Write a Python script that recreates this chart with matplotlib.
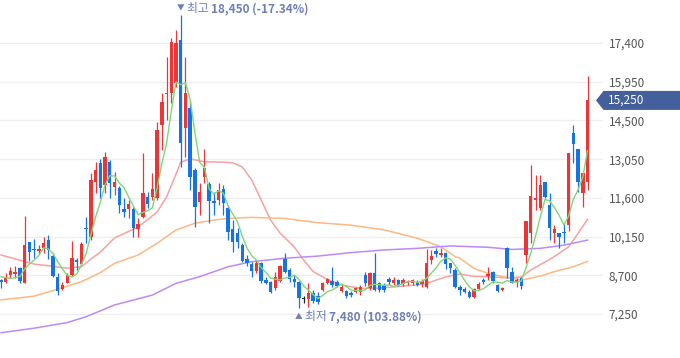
import numpy as np
import matplotlib as mpl
import matplotlib.pyplot as plt
from matplotlib.patches import Polygon
from matplotlib.transforms import IdentityTransform

plt.rcParams['font.family'] = ['Noto Sans CJK KR', 'DejaVu Sans']

# ------------ Daily OHLC (KRW) ------------
opens = [8520, 8460, 8710, 8760, 8960, 8420, 9940, 9690, 9620, 9730,
         10020, 9420, 8650, 8180, 8420, 8710, 9270, 9120, 10460, 10130,
         12210, 12910, 12080, 12950, 12000, 11960, 11180, 11180, 11180, 10420,
         10870, 11640, 11640, 11580, 14330, 15490, 15520, 15890, 17510, 14200,
         14950, 12640, 11460, 12390, 12120, 11490, 11520, 11920, 11210, 10430,
         10280, 9830, 9310, 9120, 8860, 9160, 8520, 8450, 8220, 8490,
         9310, 8900, 8560, 8450, 7810, 7810, 8040, 7920, 8150, 8410,
         8490, 8450, 8110, 8110, 8040, 8090, 8090, 8710, 8210, 8770,
         8400, 8340, 8550, 8420, 8520, 8370, 8400, 8400, 8460, 8360,
         8270, 9270, 9610, 9470, 9520, 9150, 8900, 8270, 8180, 8090,
         7880, 8180, 8520, 8670, 8810, 8340, 8150, 9710, 8820, 8460,
         8590, 9460, 10300, 11520, 11210, 12180, 11330, 10270, 10300, 10330,
         10580, 14040, 13420, 11770, 12210]
highs = [8560, 8800, 9020, 9050, 9010, 10920, 9950, 10050, 9830, 10120,
         10210, 9530, 8770, 8460, 8800, 10000, 9360, 9960, 10890, 12520,
         12950, 13060, 13330, 13020, 12580, 12040, 11580, 11520, 11260, 10850,
         13270, 11820, 12520, 14450, 15520, 16890, 17580, 17890, 18450, 16890,
         15270, 12720, 12150, 13420, 12190, 11830, 12150, 12080, 11330, 10770,
         10470, 9910, 9460, 9200, 9270, 9200, 8640, 8490, 8820, 9090,
         9530, 8970, 8710, 8490, 7920, 8410, 8150, 8070, 8450, 8600,
         9010, 8520, 8340, 8150, 8110, 8260, 8340, 8840, 8840, 9520,
         8460, 8400, 8650, 8620, 8570, 8590, 8520, 8560, 8520, 8560,
         9670, 9650, 9710, 9710, 9580, 9170, 8970, 8340, 8270, 8150,
         8220, 8460, 8590, 9000, 8870, 8370, 8250, 9750, 9000, 8590,
         8650, 10730, 12830, 12460, 12460, 12210, 11770, 10580, 10300, 10650,
         13270, 14330, 13420, 12520, 16160]
lows = [8220, 8410, 8600, 8600, 8420, 8410, 9240, 9360, 9500, 9520,
        9310, 8640, 7960, 8150, 8400, 8670, 8900, 9090, 9920, 10020,
        11780, 11600, 11770, 11580, 11710, 11020, 10870, 10850, 10120, 10120,
        10830, 11220, 11520, 11520, 13390, 14520, 15140, 15760, 12770, 13140,
        11900, 10520, 10960, 12150, 10650, 10960, 11330, 10960, 10020, 9570,
        9720, 9200, 9050, 8640, 8790, 8410, 8370, 8040, 8150, 8450,
        8790, 8450, 8260, 7480, 7660, 7510, 7660, 7620, 8110, 8370,
        8260, 8260, 8070, 7850, 7890, 8040, 7960, 8300, 8150, 8120,
        8090, 8090, 8340, 8340, 8300, 8300, 8340, 8340, 8300, 8260,
        8210, 9110, 9400, 9400, 8920, 8770, 8220, 7960, 8030, 7840,
        7840, 8150, 8370, 8520, 8400, 8090, 8120, 8590, 8400, 8250,
        8180, 9150, 9920, 11150, 11150, 11580, 10020, 9900, 9710, 9900,
        10370, 12920, 11830, 11270, 11900]
closes = [8440, 8650, 8870, 8840, 8490, 9830, 9560, 9640, 9700, 9920,
          9650, 8670, 8110, 8340, 8710, 9360, 9210, 9870, 10420, 12270,
          12640, 11960, 13140, 12150, 12210, 11330, 11080, 11370, 10460, 10620,
          11770, 11370, 11920, 14140, 15200, 15520, 17450, 17390, 13640, 15530,
          12390, 11270, 11830, 12710, 11490, 11400, 11900, 11400, 10330, 9950,
          9950, 9240, 9160, 8860, 9160, 8490, 8410, 8070, 8640, 9050,
          8820, 8560, 8450, 7850, 7810, 8040, 7740, 7700, 8410, 8560,
          8340, 8300, 8260, 7920, 7960, 8210, 8270, 8400, 8770, 8150,
          8150, 8150, 8460, 8520, 8340, 8520, 8460, 8520, 8340, 8490,
          9170, 9420, 9500, 9550, 9110, 8960, 8270, 8150, 8090, 7900,
          8180, 8370, 8460, 8750, 8500, 8120, 8220, 8960, 8420, 8520,
          8300, 10730, 11670, 11610, 12080, 11620, 10460, 10430, 10150, 10270,
          13270, 13620, 12210, 12520, 15250]
prev_closes = [8850, 8970, 8740, 8250]   # last closes before the window (for MA5)

# ------------ Longer moving averages ------------
ma20_idx = [0, 7, 14, 17, 19, 21, 24, 29, 33, 35, 37, 38, 40, 43, 47, 49, 51, 53,
            55, 57, 59, 62, 64, 66, 69, 72, 76, 80, 84, 88, 90, 94, 97, 100, 104,
            107, 110, 112, 115, 117, 120, 122, 124]
ma20_val = [9460, 9120, 8970, 9020, 9310, 9570, 10100, 10510, 11070, 11630, 12490,
            12940, 13060, 12950, 12940, 12910, 12760, 12270, 11520, 10770, 10280,
            9760, 9270, 8840, 8550, 8340, 8210, 8220, 8280, 8340, 8400, 8640, 8750,
            8660, 8640, 8600, 8640, 8900, 9200, 9400, 9770, 10270, 10800]
ma60_idx = [0, 7, 11, 17, 21, 24, 29, 33, 37, 41, 45, 48, 53, 60, 67, 74, 81, 88,
            93, 96, 97, 100, 103, 107, 110, 114, 117, 121, 124]
ma60_val = [7780, 7920, 8130, 8460, 8800, 9150, 9460, 9900, 10400, 10650, 10770,
            10830, 10870, 10830, 10670, 10580, 10400, 10090, 9770, 9400, 9340, 8960,
            8770, 8620, 8520, 8670, 8840, 9020, 9220]
ma120_idx = [0, 7, 14, 18, 24, 32, 37, 42, 48, 53, 60, 67, 74, 81, 88, 95, 103,
             108, 114, 119, 124]
ma120_val = [6550, 6720, 6930, 7150, 7590, 7960, 8400, 8650, 9020, 9210, 9340,
             9420, 9550, 9650, 9710, 9800, 9750, 9670, 9710, 9830, 10020]

Y_TICKS = [7250, 8700, 10150, 11600, 13050, 14500, 15950, 17400]

UP = '#ee3535'
DOWN = '#1673e6'
MARK = '#6d7fb6'

# ------------ Figure ------------
fig = plt.figure(figsize=(6.8, 3.58), dpi=100)
ax = fig.add_axes([0, 0, 603 / 680, 1])

n = len(closes)
x = np.arange(n)
o = np.array(opens, float); c = np.array(closes, float)
h = np.array(highs, float); l = np.array(lows, float)

colors = np.where(c > o, UP, np.where(c < o, DOWN, '#222222'))
ax.vlines(x, l, h, colors=colors, lw=0.9, zorder=2)
body_lo = np.minimum(o, c)
body_h = np.maximum(np.abs(c - o), 25)
ax.bar(x, body_h, bottom=body_lo, width=0.72, color=colors, lw=0, zorder=3)

# moving averages
all_c = np.concatenate([prev_closes, closes])
ma5 = np.convolve(all_c, np.ones(5) / 5, mode='valid')
ax.plot(x, ma5, color='#7fd77a', lw=1.0, zorder=4)
ax.plot(ma20_idx, ma20_val, color='#f7a1a1', lw=1.1, zorder=1)
ax.plot(ma60_idx, ma60_val, color='#fdb883', lw=1.1, zorder=1)
ax.plot(ma120_idx, ma120_val, color='#bd8af5', lw=1.1, zorder=1)

ax.set_xlim(-0.21, 127.27)
ax.set_ylim(5604, 19010)
ax.set_yticks(Y_TICKS)
ax.set_yticklabels([f"{v:,}" for v in Y_TICKS])
ax.yaxis.tick_right()
ax.tick_params(axis='y', length=0, pad=4, labelsize=8.5, labelcolor='#555555')
ax.set_xticks([])
ax.grid(axis='y', color='#eeeeee', lw=0.9, zorder=0)
ax.set_axisbelow(True)
for s in ax.spines.values():
    s.set_visible(False)


def marker_label(idx, price, arrow, word, dy):
    tri = ax.annotate(arrow, xy=(idx, price), xytext=(0, dy), textcoords='offset pixels',
                      ha='center', va='center', fontsize=5.5, color=MARK)
    t = ax.annotate(word + ' ', xy=(1, 0.5), xycoords=tri, xytext=(2, 0),
                    textcoords='offset pixels', ha='left', va='center',
                    fontsize=8.5, color=MARK)
    pct = (closes[-1] / price - 1) * 100
    ax.annotate(f"{price:,} ({pct:.2f}%)", xy=(1, 0.5), xycoords=t, ha='left',
                va='center', fontsize=8.5, color=MARK, weight='bold')


hi_i = int(np.argmax(h)); lo_i = int(np.argmin(l))
marker_label(hi_i, highs[hi_i], '▼', '최고', 6)
marker_label(lo_i, lows[lo_i], '▲', '최저', -9)

# current price tag
last = closes[-1]
yc = ax.transData.transform((0, last))[1]
tag = Polygon([(596, yc), (603.5, yc + 9.5), (682, yc + 9.5), (682, yc - 9.5), (603.5, yc - 9.5)],
              closed=True, transform=IdentityTransform(), fc='#44609c', ec='none')
fig.patches.append(tag)
fig.text(608 / 680, yc / 358, f"{last:,}", ha='left', va='center', fontsize=8.5, color='white')

fig.savefig('out.png', dpi=100)
